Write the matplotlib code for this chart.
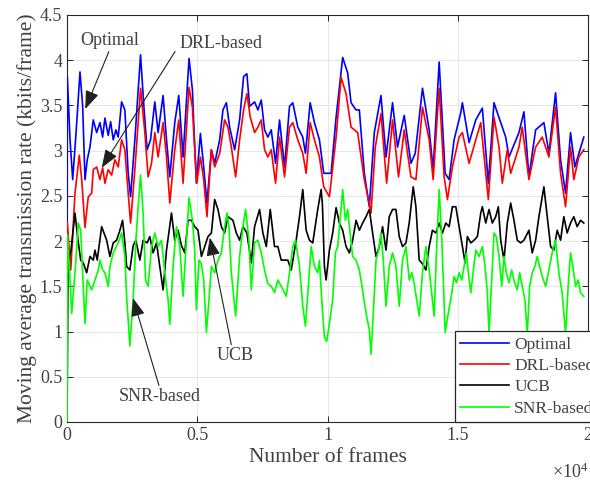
import numpy as np
import matplotlib
matplotlib.use('Agg')
import matplotlib.pyplot as plt
from matplotlib.ticker import FuncFormatter, MultipleLocator

plt.rcParams['font.family'] = ['Liberation Serif', 'DejaVu Serif']
plt.rcParams['mathtext.fontset'] = 'custom'
plt.rcParams['mathtext.rm'] = 'Liberation Serif'

TEXT = '#404040'
AXIS = '#262626'

# (frame, moving average rate) pairs
OPTIMAL = [
    (0, 0), (11, 3.82), (115, 3.12), (218, 2.68), (345, 3.19), (498, 3.87), (601, 3.49),
    (689, 2.68), (777, 2.90), (881, 3.04), (1007, 3.34), (1138, 3.20), (1264, 3.31),
    (1367, 3.15), (1455, 3.36), (1582, 3.17), (1674, 3.32), (1773, 3.12), (1877, 3.23),
    (1965, 3.15), (2095, 3.54), (2221, 3.45), (2348, 2.75), (2440, 2.49), (2604, 3.12),
    (2823, 4.06), (2949, 3.49), (3075, 3.01), (3206, 3.12), (3370, 3.54), (3497, 3.20),
    (3688, 3.61), (3819, 3.12), (3945, 2.71), (4136, 3.31), (4290, 3.61), (4454, 2.93),
    (4684, 4.02), (4814, 3.67), (4864, 3.31), (4967, 2.64), (5121, 3.19), (5220, 2.90),
    (5373, 2.42), (5542, 3.01), (5668, 2.86), (5860, 3.12), (5986, 3.45), (6117, 3.53),
    (6243, 3.26), (6434, 3.01), (6626, 3.34), (6779, 3.82), (6905, 3.85), (7009, 3.49),
    (7200, 3.54), (7327, 3.45), (7457, 3.56), (7583, 3.23), (7710, 3.15), (7840, 3.23),
    (8005, 2.86), (8158, 3.34), (8350, 2.82), (8541, 3.49), (8667, 3.53), (8859, 3.26),
    (9050, 3.15), (9154, 2.97), (9334, 3.53), (9498, 3.31), (9690, 3.12), (9855, 2.75),
    (10138, 2.75), (10330, 3.37), (10582, 4.03), (10774, 3.86), (10904, 3.53),
    (11096, 3.45), (11222, 3.45), (11413, 2.75), (11605, 2.38), (11796, 3.20),
    (12053, 3.61), (12245, 2.93), (12497, 3.53), (12689, 3.04), (12945, 3.39),
    (13202, 2.86), (13367, 2.97), (13646, 3.69), (13903, 3.23), (14056, 2.79),
    (14286, 3.98), (14516, 2.75), (14669, 2.68), (14860, 3.12), (15117, 3.42),
    (15178, 3.53), (15435, 3.09), (15692, 3.34), (15944, 3.47), (16174, 2.64),
    (16392, 3.53), (16519, 3.42), (16841, 3.15), (16967, 2.93), (17350, 3.20),
    (17541, 3.43), (17733, 2.71), (17990, 3.23), (18307, 3.31), (18499, 2.97),
    (18755, 3.64), (18947, 2.90), (19139, 2.53), (19330, 3.20), (19495, 2.82),
    (19839, 3.15),
]

DRL = [
    (0, 0), (11, 2.21), (142, 1.68), (306, 2.53), (471, 2.95), (563, 2.68), (689, 2.15),
    (816, 2.49), (946, 2.53), (1007, 2.79), (1138, 2.82), (1264, 2.68), (1367, 2.81),
    (1455, 2.64), (1582, 2.79), (1711, 2.73), (1838, 2.90), (1965, 2.82), (2095, 3.12),
    (2221, 3.01), (2348, 2.53), (2440, 2.20), (2604, 2.79), (2823, 3.69), (2988, 3.20),
    (3114, 2.71), (3244, 2.86), (3370, 3.20), (3497, 2.93), (3688, 3.31), (3819, 2.93),
    (3945, 2.42), (4136, 3.01), (4290, 3.34), (4454, 2.64), (4684, 3.70), (4814, 3.48),
    (4880, 3.12), (4980, 2.64), (5121, 2.93), (5247, 2.68), (5373, 2.27), (5542, 3.01),
    (5668, 2.82), (5860, 2.97), (6051, 3.34), (6178, 3.26), (6308, 3.04), (6473, 2.71),
    (6626, 3.12), (6779, 3.45), (6905, 3.63), (7035, 3.37), (7200, 3.20), (7327, 3.26),
    (7457, 3.34), (7583, 3.01), (7710, 2.93), (7840, 3.01), (8005, 2.64), (8158, 3.15),
    (8350, 2.71), (8541, 3.26), (8667, 3.31), (8859, 3.12), (9050, 2.97), (9180, 2.75),
    (9334, 3.31), (9498, 3.12), (9690, 2.93), (9855, 2.60), (10073, 2.49),
    (10330, 3.15), (10521, 3.81), (10712, 3.63), (10904, 3.26), (11157, 3.20),
    (11413, 2.68), (11670, 2.31), (11835, 3.04), (12053, 3.41), (12270, 2.64),
    (12497, 3.34), (12727, 2.71), (12945, 3.23), (13202, 2.71), (13394, 2.68),
    (13646, 3.48), (13903, 3.12), (14056, 2.68), (14286, 3.69), (14477, 2.71),
    (14604, 2.46), (14795, 2.82), (15050, 3.15), (15178, 3.20), (15435, 2.86),
    (15692, 3.12), (15883, 3.31), (16174, 2.46), (16392, 3.37), (16584, 3.04),
    (16710, 2.64), (16902, 3.01), (17032, 2.75), (17350, 3.04), (17476, 3.26),
    (17733, 2.68), (17990, 3.04), (18242, 3.15), (18499, 2.93), (18755, 3.48),
    (18947, 2.75), (19139, 2.38), (19330, 3.04), (19456, 2.68), (19648, 2.93),
    (19839, 3.01),
]

UCB = [
    (0, 0), (38, 1.77), (153, 1.90), (306, 2.31), (421, 2.01), (525, 1.79), (624, 1.76),
    (754, 1.65), (881, 1.83), (1007, 1.79), (1072, 1.90), (1160, 1.79), (1329, 2.16),
    (1417, 2.09), (1521, 2.01), (1647, 1.83), (1773, 1.98), (1903, 2.01), (2030, 2.12),
    (2133, 2.23), (2221, 1.98), (2287, 1.72), (2413, 1.68), (2540, 1.95), (2643, 2.01),
    (2796, 1.79), (2922, 2.01), (3075, 1.98), (3178, 2.05), (3305, 1.87), (3435, 1.98),
    (3561, 1.72), (3688, 1.46), (3819, 1.90), (4010, 2.31), (4136, 2.01), (4263, 2.12),
    (4393, 1.95), (4520, 1.87), (4646, 2.23), (4776, 2.23), (4902, 2.16), (5029, 2.12),
    (5159, 1.83), (5285, 1.94), (5412, 2.05), (5542, 2.09), (5668, 2.46), (5795, 2.35),
    (5925, 2.16), (6051, 2.09), (6178, 2.27), (6369, 2.23), (6499, 2.09), (6626, 2.01),
    (6752, 2.16), (6905, 2.09), (7074, 1.76), (7200, 2.16), (7392, 2.35), (7519, 2.09),
    (7649, 1.94), (7802, 2.35), (7966, 1.94), (8093, 1.94), (8223, 1.79), (8350, 1.79),
    (8476, 1.79), (8606, 1.68), (8797, 2.01), (8924, 2.27), (9050, 2.57), (9180, 2.12),
    (9307, 2.01), (9433, 1.98), (9625, 2.35), (9755, 2.57), (9805, 2.40), (9881, 1.72),
    (9946, 1.57), (10073, 1.90), (10199, 2.09), (10330, 2.37), (10456, 2.20),
    (10582, 2.12), (10712, 1.94), (10839, 1.87), (10965, 2.01), (11096, 2.23),
    (11222, 2.12), (11348, 2.20), (11479, 2.27), (11605, 2.35), (11731, 2.09),
    (11862, 1.83), (11988, 1.94), (12114, 2.16), (12245, 1.90), (12371, 2.27),
    (12497, 2.35), (12627, 2.35), (12754, 2.05), (12880, 1.94), (13011, 1.98),
    (13137, 2.20), (13290, 2.60), (13394, 2.38), (13520, 1.79), (13646, 1.75),
    (13776, 1.68), (13903, 1.94), (14029, 2.12), (14160, 2.09), (14286, 2.20),
    (14412, 2.09), (14543, 2.20), (14669, 2.16), (14795, 2.38), (14926, 2.38),
    (15052, 2.16), (15178, 1.94), (15282, 1.76), (15370, 2.05), (15500, 1.98),
    (15626, 2.01), (15753, 2.05), (15883, 2.31), (15944, 2.38), (16075, 2.20),
    (16201, 2.35), (16327, 2.20), (16458, 2.27), (16557, 2.38), (16649, 2.01),
    (16775, 1.79), (16902, 2.20), (17032, 2.42), (17158, 2.23), (17285, 2.01),
    (17415, 1.98), (17541, 2.01), (17733, 2.12), (17859, 1.87), (17990, 2.01),
    (18116, 2.27), (18307, 2.60), (18434, 2.27), (18564, 1.94), (18690, 1.90),
    (18817, 2.12), (18947, 2.01), (19073, 2.27), (19200, 2.09), (19330, 2.20),
    (19456, 2.27), (19583, 2.16), (19713, 2.23), (19839, 2.20),
]

SNR = [
    (0, 0), (19, 2.07), (115, 1.57), (180, 1.20), (306, 1.65), (433, 2.20), (525, 2.12),
    (601, 1.65), (689, 1.09), (777, 1.57), (881, 1.50), (946, 1.46), (1072, 1.57),
    (1199, 1.68), (1264, 1.79), (1367, 1.68), (1455, 1.65), (1582, 1.50), (1647, 1.72),
    (1773, 1.87), (1965, 1.98), (2095, 2.09), (2221, 1.83), (2287, 1.39), (2413, 0.84),
    (2539, 1.35), (2643, 2.01), (2731, 2.38), (2823, 2.73), (2922, 2.31), (3014, 1.57),
    (3114, 1.50), (3244, 1.94), (3370, 2.09), (3497, 1.94), (3627, 2.01), (3753, 1.65),
    (3880, 1.35), (3945, 1.08), (4071, 1.72), (4202, 2.16), (4328, 1.94), (4454, 1.39),
    (4585, 2.01), (4684, 2.48), (4814, 2.23), (4902, 1.90), (4967, 1.24), (5067, 1.79),
    (5159, 1.75), (5247, 1.57), (5351, 0.99), (5450, 1.35), (5542, 1.72), (5668, 1.65),
    (5795, 1.79), (5925, 1.87), (6051, 2.16), (6139, 2.31), (6216, 2.16), (6308, 1.65),
    (6473, 1.17), (6626, 1.83), (6752, 2.16), (6856, 2.35), (6982, 2.01), (7074, 1.46),
    (7200, 1.98), (7327, 2.01), (7457, 1.87), (7583, 1.68), (7710, 1.53), (7840, 1.50),
    (7966, 1.43), (8093, 1.57), (8223, 1.50), (8415, 1.39), (8541, 1.65), (8667, 1.94),
    (8771, 2.01), (8924, 1.72), (9050, 1.28), (9154, 1.06), (9280, 1.57), (9372, 1.94),
    (9498, 1.72), (9625, 1.65), (9690, 1.79), (9793, 1.28), (9881, 0.94), (9969, 0.89),
    (10073, 1.09), (10199, 1.35), (10303, 1.87), (10391, 1.94), (10482, 2.23),
    (10582, 2.57), (10686, 2.23), (10774, 2.35), (10866, 2.09), (10965, 1.83),
    (11096, 1.79), (11222, 1.68), (11325, 1.50), (11413, 1.32), (11501, 1.17),
    (11605, 1.02), (11670, 0.75), (11758, 1.21), (11862, 1.79), (11961, 1.90),
    (12053, 2.09), (12141, 1.79), (12245, 1.28), (12371, 1.72), (12497, 1.87),
    (12627, 1.72), (12754, 1.28), (12880, 1.79), (13011, 1.94), (13137, 1.57),
    (13240, 1.65), (13328, 1.53), (13520, 1.17), (13646, 1.65), (13776, 1.94),
    (13903, 1.68), (14094, 1.17), (14182, 1.87), (14286, 2.57), (14390, 2.01),
    (14516, 0.99), (14642, 1.21), (14773, 1.43), (14860, 1.61), (14948, 1.54),
    (15052, 1.65), (15155, 1.57), (15243, 1.72), (15331, 1.87), (15408, 1.65),
    (15500, 1.43), (15588, 1.65), (15692, 1.90), (15818, 1.83), (15945, 1.94),
    (16048, 1.72), (16136, 1.43), (16201, 0.97), (16304, 1.57), (16392, 2.09),
    (16481, 2.05), (16584, 1.83), (16687, 1.50), (16775, 1.83), (16864, 1.65),
    (16967, 1.54), (17070, 1.68), (17158, 1.57), (17285, 1.46), (17377, 1.65),
    (17476, 1.50), (17580, 1.35), (17668, 0.97), (17760, 1.50), (17859, 1.65),
    (17962, 1.72), (18051, 1.83), (18143, 1.72), (18242, 1.61), (18372, 1.50),
    (18499, 1.68), (18625, 1.87), (18755, 2.01), (18882, 1.65), (19008, 1.43),
    (19139, 0.97), (19238, 1.50), (19330, 1.87), (19418, 1.72), (19522, 1.50),
    (19621, 1.57), (19713, 1.43), (19839, 1.39),
]

SERIES = [
    ('Optimal', OPTIMAL, '#0000ff'),
    ('DRL-based', DRL, '#ff0000'),
    ('UCB', UCB, '#000000'),
    ('SNR-based', SNR, '#00ff00'),
]

# label, arrow tip (frame, rate), text centre (frame, rate), arrow start on text
ANNOTATIONS = [
    ('Optimal', (700, 3.46), (1650, 4.22), (0.5, 0.0)),
    ('DRL-based', (1330, 2.81), (5900, 4.19), (-0.05, 0.0)),
    ('UCB', (5480, 2.04), (6470, 0.73), (0.4, 1.0)),
    ('SNR-based', (2530, 1.37), (3560, 0.28), (0.5, 1.0)),
]


def main():
    fig = plt.figure(figsize=(5.9, 4.82), dpi=100)
    ax = fig.add_axes([0.1136, 0.1245, 0.883, 0.8444])

    for name, pts, color in SERIES:
        arr = np.array(pts)
        ax.plot(arr[:, 0], arr[:, 1], color=color, lw=1.2, label=name, zorder=3)

    ax.set_xlim(0, 20000)
    ax.set_ylim(0, 4.5)
    ax.xaxis.set_major_locator(MultipleLocator(5000))
    ax.yaxis.set_major_locator(MultipleLocator(0.5))
    ax.xaxis.set_major_formatter(FuncFormatter(lambda v, p: '{:g}'.format(v / 1e4)))
    ax.yaxis.set_major_formatter(FuncFormatter(lambda v, p: '{:g}'.format(v)))

    ax.grid(True, color='#e6e6e6', lw=0.7, zorder=0)
    ax.set_axisbelow(True)
    ax.tick_params(direction='in', length=4, width=0.7, colors=AXIS,
                   labelcolor=TEXT, labelsize=13, top=True, right=True)
    for sp in ax.spines.values():
        sp.set_color(AXIS)
        sp.set_linewidth(0.8)

    ax.set_xlabel('Number of frames', fontsize=15.5, color=TEXT, labelpad=3)
    ax.set_ylabel('Moving average transmission rate (kbits/frame)',
                  fontsize=15.5, color=TEXT, labelpad=2)
    ax.text(1.0, -0.1, r'$\times\mathregular{10^4}$', transform=ax.transAxes,
            ha='right', va='top', fontsize=13, color=TEXT)

    for label, tip, pos, rel in ANNOTATIONS:
        ax.annotate(label, xy=tip, xytext=pos, ha='center', va='center',
                    fontsize=13, color=TEXT, zorder=5,
                    arrowprops=dict(arrowstyle='-|>,head_length=0.75,head_width=0.28',
                                    color='#202020', lw=0.8, mutation_scale=15,
                                    relpos=rel, shrinkA=0, shrinkB=0))

    leg = ax.legend(loc='lower left', bbox_to_anchor=(0.745, 0.0), fontsize=12.5,
                    frameon=True, fancybox=False, framealpha=1, edgecolor=AXIS,
                    handlelength=2.8, handletextpad=0.3, borderpad=0.3,
                    labelspacing=0.3, borderaxespad=0)
    leg.get_frame().set_linewidth(0.9)
    for t in leg.get_texts():
        t.set_color(TEXT)
    leg.set_zorder(6)

    fig.savefig('out.png', dpi=100)


if __name__ == '__main__':
    main()
